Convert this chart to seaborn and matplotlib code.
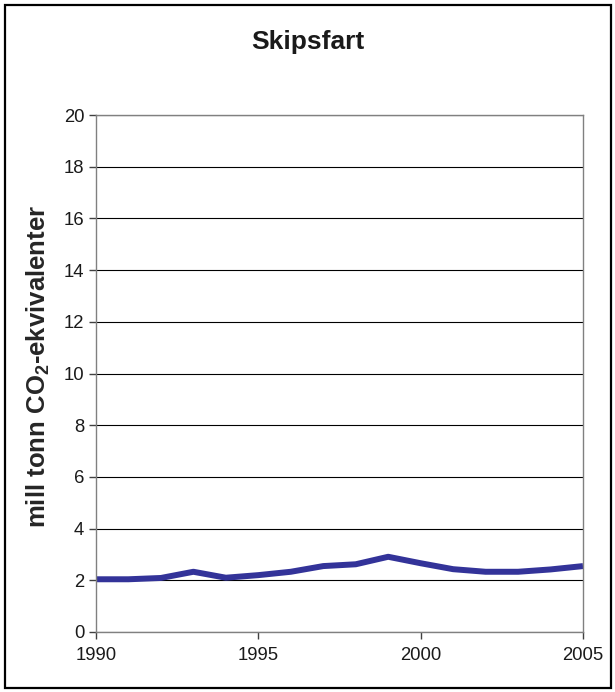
import matplotlib
matplotlib.use("Agg")
import matplotlib.pyplot as plt
import seaborn as sns
import pandas as pd

years = [1990, 1991, 1992, 1993, 1994, 1995, 1996, 1997, 1998,
         1999, 2000, 2001, 2002, 2003, 2004, 2005]
emissions = [2.04, 2.04, 2.09, 2.33, 2.10, 2.20, 2.33, 2.55, 2.62,
             2.91, 2.66, 2.43, 2.33, 2.33, 2.42, 2.55]
x_ticks = [1990, 1995, 2000, 2005]
y_ticks = list(range(0, 21, 2))

title = "Skipsfart"
ylabel = r"mill tonn CO$_\mathbf{2}$-ekvivalenter"

sns.set_theme(style="white")
plt.rcParams["font.family"] = ["Liberation Sans", "DejaVu Sans"]
plt.rcParams["mathtext.fontset"] = "custom"
plt.rcParams["mathtext.rm"] = "Liberation Sans"
plt.rcParams["mathtext.bf"] = "Liberation Sans:bold"

df = pd.DataFrame({"year": years, "value": emissions})

fig = plt.figure(figsize=(6.15, 6.92), dpi=100)
ax = fig.add_axes([96 / 615, 1 - 632 / 692, (583 - 96) / 615, (632 - 115) / 692])

# outer frame around the whole chart
fig.patches.append(plt.Rectangle((5 / 615, 4 / 692), 606 / 615, 683 / 692,
                                 transform=fig.transFigure, fill=False,
                                 edgecolor="black", linewidth=1.6))

sns.lineplot(data=df, x="year", y="value", ax=ax, color="#333399",
             linewidth=4.3, solid_joinstyle="round", solid_capstyle="butt")

ax.set_xlim(1990, 2005)
ax.set_ylim(0, 20)
ax.set_xticks(x_ticks)
ax.set_yticks(y_ticks)
ax.set_xticklabels([str(t) for t in x_ticks])
ax.yaxis.grid(True, color="black", linewidth=0.8)
ax.set_axisbelow(True)
for s in ax.spines.values():
    s.set_color("#808080")
    s.set_linewidth(1.0)
ax.tick_params(axis="both", direction="out", length=5, width=1.0,
               color="#404040", labelsize=13.3, labelcolor="#1a1a1a",
               left=True, bottom=True)
ax.tick_params(axis="x", pad=6)
ax.set_xlabel("")
ax.set_ylabel(ylabel, fontsize=18.5, fontweight="bold", labelpad=8)
ax.yaxis.label.set_y(0.513)
fig.text(0.5, 1 - 42 / 692, title, ha="center", va="center",
         fontsize=19, fontweight="bold", color="#1a1a1a")

fig.savefig("out.png", dpi=100)
